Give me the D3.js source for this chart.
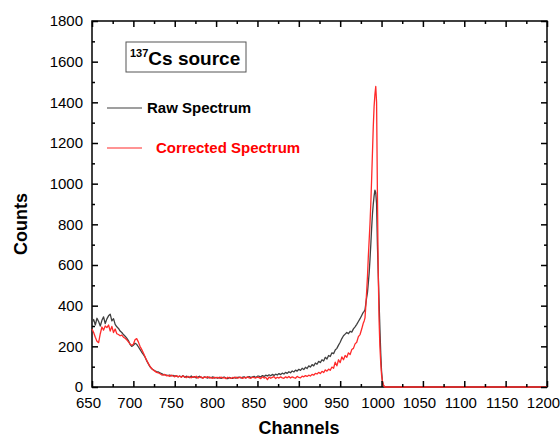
<!DOCTYPE html>
<html>
<head>
<meta charset="utf-8">
<script src="https://cdn.jsdelivr.net/npm/d3@7"></script>
<style>
  html, body { margin: 0; padding: 0; background: #fff; }
  svg { display: block; font-family: "Liberation Sans", Arial, sans-serif; }
</style>
</head>
<body>
<svg id="chart" width="560" height="438"></svg>
<script>
// ---- Data ----
// channels: step 2 from 650 to 974, step 1 from 976 to 1010, then the flat tail to 1200
const channels = [...d3.range(650, 976, 2), ...d3.range(976, 1011, 1), 1200];

const rawCounts = [
  // 650-680
  318, 332, 305, 338, 322, 300, 328, 345, 312, 335, 350, 358, 325, 336, 308, 296,
  // 682-700
  288, 275, 268, 258, 250, 240, 228, 210, 200, 205,
  // 702-720
  215, 210, 198, 185, 172, 160, 148, 130, 115, 100,
  // 722-750
  90, 85, 80, 76, 74, 70, 66, 62, 60, 58, 56, 59, 55, 57, 54,
  // 752-800
  55, 50, 54, 49, 56, 48, 53, 50, 46, 54, 47, 51, 44, 49, 53, 46, 45, 50, 47, 44, 49, 45, 50, 44, 47,
  // 802-850
  43, 48, 42, 47, 49, 43, 41, 47, 44, 42, 48, 43, 47, 49, 44, 48, 50, 45, 49, 51, 46, 50, 52, 47, 53,
  // 852-880
  53, 49, 56, 52, 58, 54, 60, 55, 62, 57, 63, 59, 66, 61, 68,
  // 882-920
  64, 72, 67, 75, 70, 79, 74, 83, 78, 87, 82, 92, 86, 97, 91, 104, 98, 110, 104, 118,
  // 922-950
  112, 126, 120, 134, 128, 146, 138, 155, 150, 168, 164, 182, 190, 206, 220,
  // 952-974
  238, 252, 260, 268, 262, 274, 270, 286, 296, 308, 322, 336,
  // 976-1010 (step 1)
  352, 360, 368, 372, 380, 410, 440, 465, 510, 560, 625, 700, 780, 850, 900, 940, 968, 955, 900, 700,
  560, 420, 290, 170, 80, 30, 10, 3, 0, 0, 0, 0, 0, 0, 0,
  // 1200
  0
];

const correctedCounts = [
  // 650-680
  285, 268, 245, 225, 218, 262, 295, 280, 300, 292, 305, 275, 298, 268, 285, 262,
  // 682-700
  258, 252, 255, 245, 240, 232, 222, 212, 205, 210,
  // 702-720
  232, 238, 222, 200, 185, 168, 150, 132, 116, 102,
  // 722-750
  92, 84, 78, 72, 70, 66, 60, 58, 62, 55, 57, 52, 58, 54, 50,
  // 752-800
  56, 50, 53, 48, 55, 50, 46, 52, 49, 45, 51, 47, 53, 44, 48, 50, 43, 49, 46, 51, 44, 47, 42, 48, 45,
  // 802-850
  47, 43, 49, 44, 46, 41, 48, 45, 42, 47, 44, 49, 43, 46, 48, 42, 47, 44, 50, 45, 43, 48, 46, 44, 49,
  // 852-880
  46, 41, 50, 44, 48, 36, 49, 43, 47, 51, 42, 48, 44, 50, 45,
  // 882-920
  43, 50, 45, 52, 44, 50, 46, 43, 52, 47, 45, 53, 50, 56, 52, 58, 54, 62, 58, 67,
  // 922-950
  64, 72, 66, 77, 71, 84, 78, 88, 82, 98, 92, 122, 104, 134, 120,
  // 952-974
  148, 134, 155, 146, 168, 160, 184, 190, 212, 220, 248, 258,
  // 976-1010 (step 1)
  285, 300, 315, 325, 340, 400, 470, 545, 640, 720, 800, 900, 1020, 1150, 1280, 1380, 1440, 1478, 1400, 950,
  560, 330, 200, 120, 60, 30, 14, 5, 0, 0, 0, 0, 0, 0, 0,
  // 1200
  0
];

const xTicks = [650, 700, 750, 800, 850, 900, 950, 1000, 1050, 1100, 1150, 1200];
const yTicks = [0, 200, 400, 600, 800, 1000, 1200, 1400, 1600, 1800];

const seriesNames = ["Raw Spectrum", "Corrected Spectrum"];
const seriesColors = ["#404040", "#ff2a2a"];

// ---- Layout ----
const svg = d3.select("#chart");
const L = 92, R = 547, T = 21, B = 387;

const x = d3.scaleLinear().domain([650, 1200]).range([L, R]);
const y = d3.scaleLinear().domain([0, 1800]).range([B, T]);

const minorX = d3.range(675, 1200, 50);
const minorY = d3.range(100, 1800, 200);

// frame
svg.append("rect")
  .attr("x", L).attr("y", T).attr("width", R - L).attr("height", B - T)
  .attr("fill", "none").attr("stroke", "#000").attr("stroke-width", 1.5);

// lines
const line = d3.line().x(d => x(d[0])).y(d => y(d[1]));
const rawPts = channels.map((c, i) => [c, rawCounts[i]]);
const corPts = channels.map((c, i) => [c, correctedCounts[i]]);

svg.append("path").datum(rawPts)
  .attr("d", line).attr("fill", "none")
  .attr("stroke", seriesColors[0]).attr("stroke-width", 1.3)
  .attr("stroke-linejoin", "round");
svg.append("path").datum(corPts)
  .attr("d", line).attr("fill", "none")
  .attr("stroke", seriesColors[1]).attr("stroke-width", 1.3)
  .attr("stroke-linejoin", "round");

// axes (ticks inward)
function styleAxis(g) {
  g.select(".domain").remove();
  g.selectAll(".tick line").attr("stroke", "#000").attr("stroke-width", 1.5);
  g.selectAll(".tick text").attr("font-size", 15).attr("fill", "#000")
    .attr("font-family", "'Liberation Sans', Arial, sans-serif");
}

// bottom
const gB = svg.append("g").attr("transform", `translate(0,${B})`)
  .call(d3.axisBottom(x).tickValues(xTicks).tickFormat(d3.format("d")).tickSizeInner(-6).tickSizeOuter(0).tickPadding(10));
styleAxis(gB);
gB.selectAll(".tick text").attr("dx", -4);
svg.append("g").attr("transform", `translate(0,${B})`)
  .call(d3.axisBottom(x).tickValues(minorX).tickFormat("").tickSizeInner(-3).tickSizeOuter(0))
  .call(styleAxis);
// top
svg.append("g").attr("transform", `translate(0,${T})`)
  .call(d3.axisTop(x).tickValues(xTicks).tickFormat("").tickSizeInner(-6).tickSizeOuter(0))
  .call(styleAxis);
svg.append("g").attr("transform", `translate(0,${T})`)
  .call(d3.axisTop(x).tickValues(minorX).tickFormat("").tickSizeInner(-3).tickSizeOuter(0))
  .call(styleAxis);
// left
const gL = svg.append("g").attr("transform", `translate(${L},0)`)
  .call(d3.axisLeft(y).tickValues(yTicks).tickFormat(d3.format("d")).tickSizeInner(-6).tickSizeOuter(0).tickPadding(9));
styleAxis(gL);
svg.append("g").attr("transform", `translate(${L},0)`)
  .call(d3.axisLeft(y).tickValues(minorY).tickFormat("").tickSizeInner(-3).tickSizeOuter(0))
  .call(styleAxis);
// right
svg.append("g").attr("transform", `translate(${R},0)`)
  .call(d3.axisRight(y).tickValues(yTicks).tickFormat("").tickSizeInner(-6).tickSizeOuter(0))
  .call(styleAxis);
svg.append("g").attr("transform", `translate(${R},0)`)
  .call(d3.axisRight(y).tickValues(minorY).tickFormat("").tickSizeInner(-3).tickSizeOuter(0))
  .call(styleAxis);

// axis titles
svg.append("text").attr("x", 299).attr("y", 434)
  .attr("text-anchor", "middle").attr("font-size", 18).attr("font-weight", "bold")
  .text("Channels");
svg.append("text").attr("transform", "translate(27,224) rotate(-90)")
  .attr("text-anchor", "middle").attr("font-size", 18).attr("font-weight", "bold")
  .text("Counts");

// title box
svg.append("rect").attr("x", 126).attr("y", 42).attr("width", 120).attr("height", 30)
  .attr("fill", "#fff").attr("stroke", "#555").attr("stroke-width", 1);
const title = svg.append("text").attr("x", 130).attr("y", 65)
  .attr("font-weight", "bold").attr("font-size", 19);
title.append("tspan").attr("font-size", 11).attr("dy", -8).text("137");
title.append("tspan").attr("dy", 8).text("Cs source");

// legend
const legendRows = [
  { name: seriesNames[0], color: seriesColors[0], ly: 108, tx: 147, textColor: "#000" },
  { name: seriesNames[1], color: seriesColors[1], ly: 148, tx: 156, textColor: "#ff0000" }
];
legendRows.forEach(r => {
  svg.append("line").attr("x1", 107).attr("x2", 142).attr("y1", r.ly).attr("y2", r.ly)
    .attr("stroke", r.color).attr("stroke-width", 1.2);
  svg.append("text").attr("x", r.tx).attr("y", r.ly + 5)
    .attr("font-size", 15).attr("font-weight", "bold").attr("fill", r.textColor)
    .text(r.name);
});
</script>
</body>
</html>
